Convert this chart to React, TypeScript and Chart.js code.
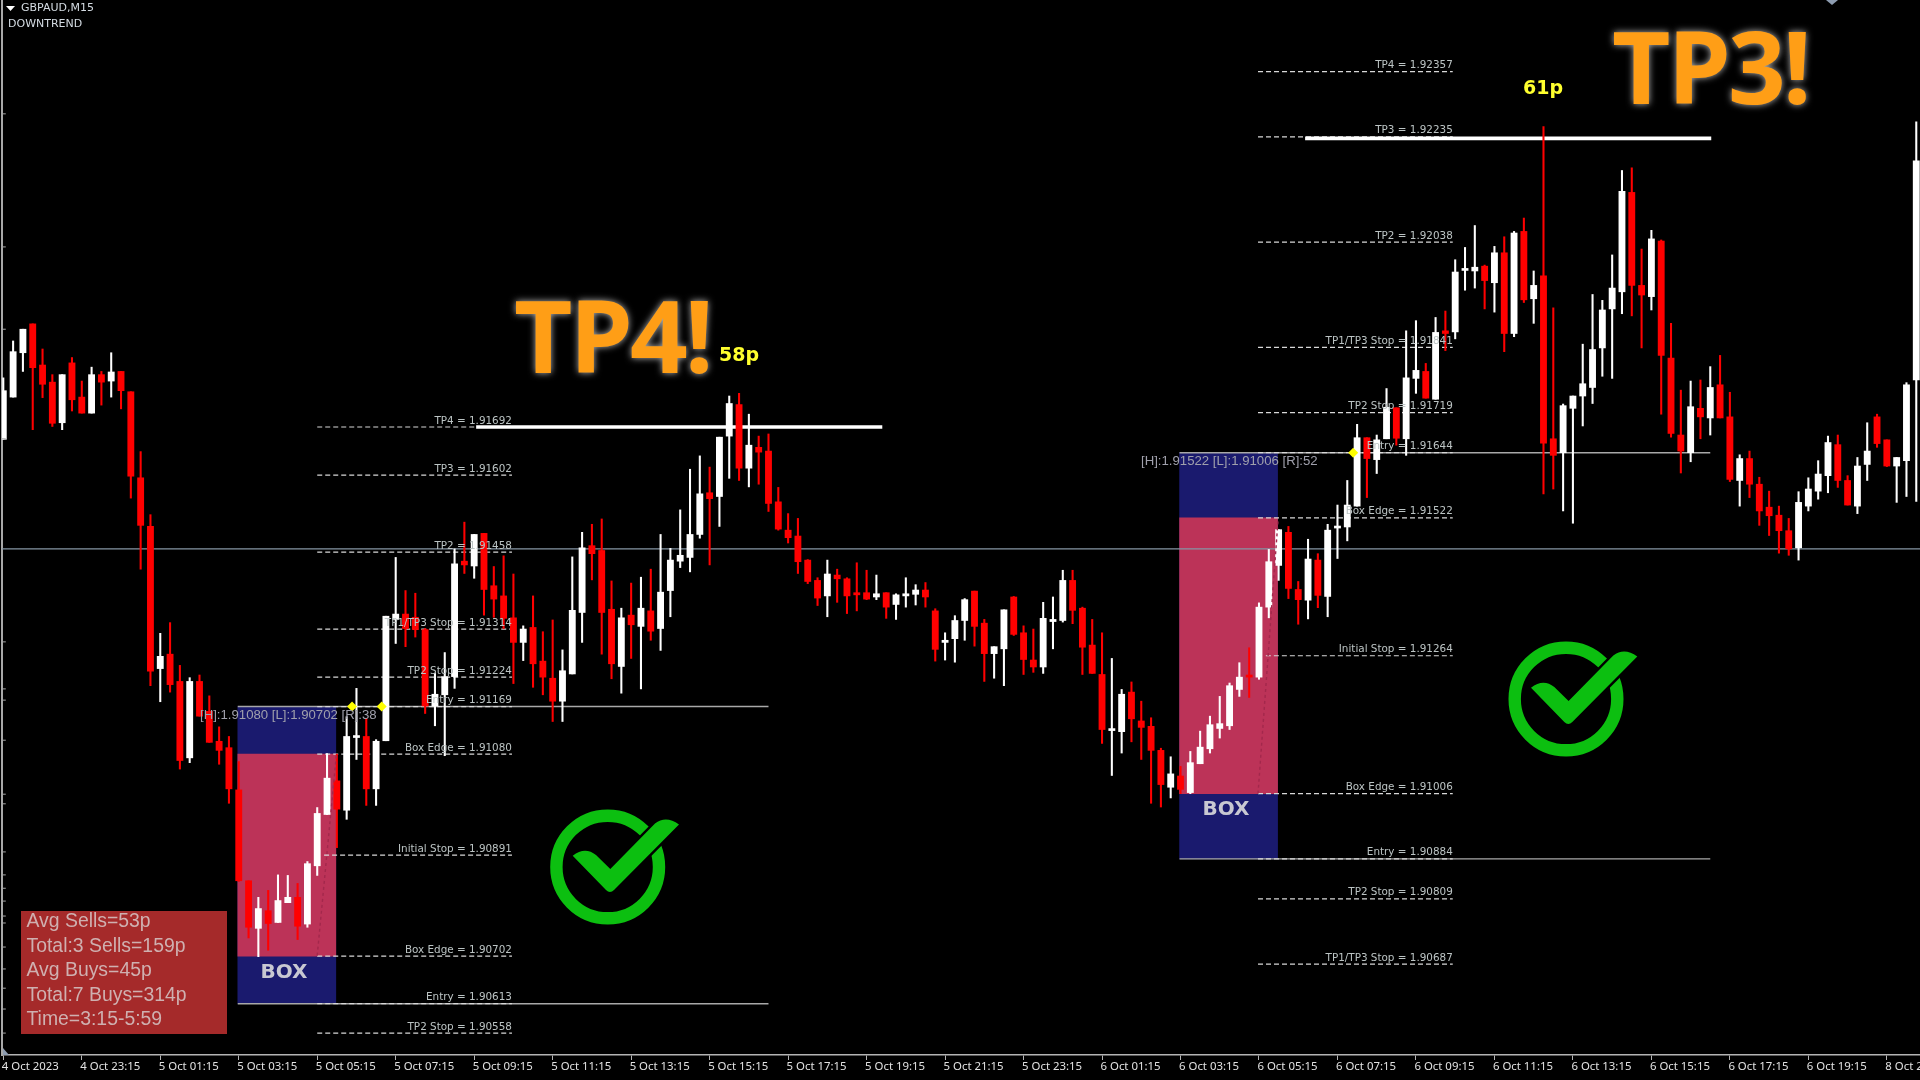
import React, { useEffect, useRef } from "react";
import { Chart, registerables } from "chart.js";

Chart.register(...registerables);

const opens = [
  1.91669,1.91748,1.91831,1.91885,1.91808,1.91776,1.91700,1.91812,1.91748,1.91718,
  1.91790,1.91778,1.91796,1.91758,1.91597,1.91506,1.91240,1.91267,1.91216,1.91073,
  1.91216,1.91160,1.91104,1.91092,1.91013,1.90843,1.90754,1.90787,1.90765,1.90802,
  1.90812,1.90762,1.90871,1.90967,1.91030,1.90975,1.91111,1.91113,1.91015,1.91105,
  1.91332,1.91342,1.91336,1.91313,1.91170,1.91191,1.91225,1.91441,1.91432,1.91493,
  1.91395,1.91376,1.91335,1.91289,1.91317,1.91254,1.91222,1.91179,1.91230,1.91345,
  1.91470,1.91461,1.91351,1.91244,1.91340,1.91319,1.91348,1.91315,1.91386,1.91441,
  1.91448,1.91491,1.91569,1.91562,1.91675,1.91734,1.91615,1.91654,1.91647,1.91552,
  1.91499,1.91488,1.91443,1.91405,1.91376,1.91415,1.91408,1.91382,1.91382,1.91374,
  1.91382,1.91360,1.91376,1.91379,1.91387,1.91348,1.91289,1.91296,1.91330,1.91385,
  1.91325,1.91268,1.91277,1.91374,1.91307,1.91256,1.91243,1.91328,1.91330,1.91405,
  1.91353,1.91284,1.91229,1.91124,1.91122,1.91196,1.91142,1.91132,1.91087,1.91018,
  1.91039,1.91008,1.91062,1.91090,1.91128,1.91133,1.91201,1.91228,1.91224,1.91355,
  1.91433,1.91495,1.91388,1.91368,1.91443,1.91375,1.91503,1.91505,1.91544,1.91672,
  1.91631,1.91670,1.91728,1.91670,1.91783,1.91796,1.91744,1.91872,1.91870,1.91985,
  1.91984,1.91993,1.91962,1.92018,1.91867,1.92058,1.91932,1.91975,1.91670,1.91644,
  1.91727,1.91750,1.91766,1.91840,1.91913,1.91945,1.92131,1.91957,1.91936,1.92040,
  1.91821,1.91677,1.91644,1.91727,1.91709,1.91771,1.91711,1.91592,1.91633,1.91585,
  1.91542,1.91527,1.91498,1.91466,1.91544,1.91572,1.91601,1.91659,1.91592,1.91544,
  1.91622,1.91711,1.91668,1.91619,1.91629,1.91780,
];
const closes = [
  1.91760,1.91833,1.91875,1.91803,1.91772,1.91699,1.91790,1.91743,1.91718,1.91790,
  1.91776,1.91795,1.91760,1.91600,1.91508,1.91235,1.91263,1.91210,1.91068,1.91216,
  1.91151,1.91102,1.91087,1.91015,1.90843,1.90756,1.90791,1.90763,1.90806,1.90812,
  1.90758,1.90875,1.90969,1.91035,1.90977,1.91113,1.91114,1.91015,1.91104,1.91338,
  1.91342,1.91315,1.91313,1.91170,1.91192,1.91225,1.91436,1.91434,1.91491,1.91388,
  1.91370,1.91334,1.91289,1.91314,1.91249,1.91224,1.91179,1.91236,1.91349,1.91466,
  1.91455,1.91345,1.91249,1.91335,1.91322,1.91353,1.91310,1.91383,1.91443,1.91452,
  1.91491,1.91567,1.91558,1.91673,1.91736,1.91615,1.91658,1.91645,1.91549,1.91501,
  1.91485,1.91440,1.91403,1.91372,1.91417,1.91408,1.91376,1.91378,1.91370,1.91380,
  1.91355,1.91378,1.91380,1.91387,1.91374,1.91276,1.91293,1.91330,1.91369,1.91319,
  1.91268,1.91281,1.91350,1.91304,1.91257,1.91243,1.91334,1.91332,1.91405,1.91349,
  1.91280,1.91231,1.91126,1.91127,1.91192,1.91146,1.91130,1.91087,1.91023,1.91043,
  1.91014,1.91064,1.91093,1.91135,1.91137,1.91208,1.91224,1.91224,1.91355,1.91440,
  1.91500,1.91390,1.91369,1.91445,1.91377,1.91499,1.91506,1.91546,1.91672,1.91633,
  1.91668,1.91729,1.91671,1.91784,1.91798,1.91746,1.91869,1.91867,1.91982,1.91988,
  1.91991,1.91966,1.92018,1.91867,1.92055,1.91930,1.91957,1.91662,1.91639,1.91732,
  1.91750,1.91773,1.91837,1.91911,1.91952,1.92133,1.91957,1.91939,1.92044,1.91826,
  1.91680,1.91647,1.91730,1.91711,1.91766,1.91709,1.91594,1.91633,1.91585,1.91535,
  1.91526,1.91498,1.91464,1.91551,1.91576,1.91604,1.91663,1.91592,1.91546,1.91619,
  1.91647,1.91661,1.91619,1.91635,1.91771,1.92190,
];
const highs = [
  1.91784,1.91853,1.91875,1.91885,1.91838,1.91790,1.91790,1.91822,1.91778,1.91804,
  1.91796,1.91831,1.91796,1.91758,1.91646,1.91528,1.91306,1.91326,1.91246,1.91223,
  1.91228,1.91189,1.91131,1.91113,1.91066,1.90843,1.90812,1.90825,1.90854,1.90853,
  1.90838,1.90879,1.90980,1.91081,1.91080,1.91150,1.91203,1.91147,1.91107,1.91338,
  1.91448,1.91386,1.91381,1.91315,1.91231,1.91270,1.91464,1.91514,1.91491,1.91493,
  1.91431,1.91451,1.91417,1.91320,1.91376,1.91309,1.91331,1.91275,1.91449,1.91495,
  1.91510,1.91520,1.91404,1.91353,1.91400,1.91411,1.91426,1.91491,1.91465,1.91537,
  1.91613,1.91638,1.91617,1.91673,1.91750,1.91755,1.91716,1.91675,1.91679,1.91579,
  1.91530,1.91521,1.91444,1.91410,1.91443,1.91426,1.91410,1.91438,1.91424,1.91415,
  1.91382,1.91380,1.91410,1.91397,1.91401,1.91352,1.91307,1.91339,1.91371,1.91385,
  1.91332,1.91281,1.91350,1.91375,1.91320,1.91314,1.91364,1.91374,1.91424,1.91424,
  1.91355,1.91332,1.91307,1.91259,1.91201,1.91215,1.91179,1.91148,1.91091,1.91075,
  1.91057,1.91085,1.91123,1.91151,1.91188,1.91213,1.91251,1.91279,1.91363,1.91463,
  1.91500,1.91506,1.91403,1.91482,1.91455,1.91510,1.91546,1.91592,1.91697,1.91672,
  1.91677,1.91764,1.91728,1.91872,1.91891,1.91811,1.91897,1.91909,1.92005,1.92028,
  1.92069,1.91995,1.92030,1.92048,1.92058,1.92083,1.91984,1.92254,1.91915,1.91735,
  1.91750,1.91847,1.91940,1.91929,1.92014,1.92172,1.92177,1.92025,1.92060,1.92042,
  1.91886,1.91761,1.91778,1.91780,1.91805,1.91826,1.91757,1.91640,1.91647,1.91598,
  1.91572,1.91544,1.91521,1.91571,1.91597,1.91629,1.91675,1.91677,1.91601,1.91635,
  1.91700,1.91716,1.91668,1.91635,1.91775,1.92263,
];
const lows = [
  1.91669,1.91748,1.91796,1.91687,1.91747,1.91693,1.91687,1.91722,1.91718,1.91718,
  1.91733,1.91748,1.91726,1.91559,1.91426,1.91208,1.91178,1.91196,1.91052,1.91064,
  1.91151,1.91102,1.91061,1.90988,1.90842,1.90736,1.90701,1.90713,1.90765,1.90802,
  1.90733,1.90756,1.90853,1.90967,1.90905,1.90958,1.91070,1.90984,1.90984,1.91105,
  1.91287,1.91281,1.91299,1.91156,1.91133,1.91077,1.91203,1.91418,1.91409,1.91340,
  1.91336,1.91315,1.91212,1.91255,1.91205,1.91191,1.91141,1.91141,1.91230,1.91289,
  1.91406,1.91267,1.91221,1.91194,1.91259,1.91202,1.91293,1.91274,1.91337,1.91429,
  1.91421,1.91484,1.91434,1.91506,1.91596,1.91592,1.91580,1.91585,1.91534,1.91499,
  1.91475,1.91418,1.91399,1.91358,1.91337,1.91364,1.91343,1.91348,1.91369,1.91369,
  1.91334,1.91332,1.91355,1.91359,1.91355,1.91254,1.91256,1.91252,1.91293,1.91282,
  1.91216,1.91222,1.91208,1.91302,1.91229,1.91233,1.91231,1.91277,1.91327,1.91324,
  1.91229,1.91231,1.91100,1.91040,1.91082,1.91103,1.91070,1.90988,1.90981,1.90998,
  1.91006,1.91006,1.91062,1.91082,1.91110,1.91126,1.91188,1.91186,1.91220,1.91335,
  1.91405,1.91371,1.91323,1.91333,1.91354,1.91337,1.91446,1.91479,1.91544,1.91560,
  1.91605,1.91670,1.91658,1.91639,1.91755,1.91746,1.91744,1.91835,1.91857,1.91948,
  1.91952,1.91913,1.91907,1.91833,1.91861,1.91925,1.91886,1.91567,1.91576,1.91535,
  1.91512,1.91694,1.91736,1.91787,1.91783,1.91904,1.91900,1.91840,1.91911,1.91716,
  1.91673,1.91606,1.91627,1.91670,1.91677,1.91709,1.91590,1.91544,1.91560,1.91508,
  1.91489,1.91456,1.91452,1.91443,1.91535,1.91557,1.91569,1.91579,1.91546,1.91530,
  1.91592,1.91654,1.91618,1.91551,1.91562,1.91553,
];

const xTickIndex = [0,8,16,24,32,40,48,56,64,72,80,88,96,104,112,120,128,136,144,152,160,168,176,184,192];
const xTickLabels = [
  "4 Oct 2023","4 Oct 23:15","5 Oct 01:15","5 Oct 03:15","5 Oct 05:15","5 Oct 07:15","5 Oct 09:15",
  "5 Oct 11:15","5 Oct 13:15","5 Oct 15:15","5 Oct 17:15","5 Oct 19:15","5 Oct 21:15","5 Oct 23:15",
  "6 Oct 01:15","6 Oct 03:15","6 Oct 05:15","6 Oct 07:15","6 Oct 09:15","6 Oct 11:15","6 Oct 13:15",
  "6 Oct 15:15","6 Oct 17:15","6 Oct 19:15","8 Oct 21:15",
];
const yTickPrices = [1.92278,1.92029,1.91875,1.91670,1.91290,1.91202,1.91181,1.91106,1.91005,1.90987,1.90897,1.90854,1.90829,1.90805,1.90777,1.90764,1.90719,1.90678,1.90642,1.90603,1.90558];

const levelNamesA = ["TP4","TP3","TP2","TP1/TP3 Stop","TP2 Stop","Entry","Box Edge","Initial Stop","Box Edge","Entry","TP2 Stop"];
const levelPricesA = ["1.91692","1.91602","1.91458","1.91314","1.91224","1.91169","1.91080","1.90891","1.90702","1.90613","1.90558"];
const levelNamesB = ["TP4","TP3","TP2","TP1/TP3 Stop","TP2 Stop","Entry","Box Edge","Initial Stop","Box Edge","Entry","TP2 Stop","TP1/TP3 Stop"];
const levelPricesB = ["1.92357","1.92235","1.92038","1.91841","1.91719","1.91644","1.91522","1.91264","1.91006","1.90884","1.90809","1.90687"];

const boxCenters = [28.9, 124.9];
const boxOuter = [[1.90613, 1.91169], [1.90884, 1.91644]];
const boxInner = [[1.90702, 1.91080], [1.91006, 1.91522]];
const entryLines = [
  [23.9, 78, 1.91169], [23.9, 78, 1.90613],
  [119.9, 174, 1.91644], [119.9, 174, 1.90884],
];
const targetLines = [[48.2, 89.6, 1.91692], [132.7, 174.1, 1.92232]];
const trendLine = 1.91464;
const tradeLines = [
  [[32, 1.90703], [33.95, 1.91078]],
  [[127.9, 1.91006], [129.95, 1.91520]],
];
const markerX = [35.55, 38.57, 137.6];
const markerY = [1.91169, 1.91169, 1.91644];
const statsLines = ["Avg Sells=53p", "Total:3 Sells=159p", "Avg Buys=45p", "Total:7 Buys=314p", "Time=3:15-5:59"];
const infoTexts = ["[H]:1.91080 [L]:1.90702 [R]:38", "[H]:1.91522 [L]:1.91006 [R]:52"];

const WHITE = "#ffffff";
const RED = "#ff0000";
const LEVEL_A = [32, 51.85];
const LEVEL_B = [127.9, 147.75];

function hline(from: number, to: number, y: number, color: string, width: number, dash: number[], order: number) {
  return {
    type: "line",
    data: [{ x: from, y }, { x: to, y }],
    borderColor: color,
    borderWidth: width,
    borderDash: dash,
    pointRadius: 0,
    order,
  };
}

function drawCheck(ctx: CanvasRenderingContext2D, cx: number, cy: number) {
  const green = "#0cbf10";
  ctx.save();
  ctx.beginPath();
  ctx.arc(cx, cy, 51.3, 0, Math.PI * 2);
  ctx.strokeStyle = green;
  ctx.lineWidth = 12.4;
  ctx.stroke();
  ctx.translate(cx - 77.7, cy - 77);
  ctx.beginPath();
  ctx.moveTo(42.7, 65.7);
  ctx.quadraticCurveTo(55, 56, 66, 65);
  ctx.lineTo(80.3, 79);
  ctx.lineTo(125, 33.5);
  ctx.quadraticCurveTo(136, 25, 149, 34.5);
  ctx.lineTo(84, 100);
  ctx.quadraticCurveTo(80, 104, 76, 100);
  ctx.closePath();
  ctx.strokeStyle = "#000";
  ctx.lineWidth = 5;
  ctx.stroke();
  ctx.fillStyle = green;
  ctx.fill();
  ctx.restore();
}

function bigText(ctx: CanvasRenderingContext2D, text: string, x: number, y: number) {
  ctx.save();
  ctx.font = '700 101px "Open Sans"';
  (ctx as any).letterSpacing = "-3px";
  ctx.textAlign = "left";
  ctx.textBaseline = "alphabetic";
  ctx.shadowColor = "rgba(215,215,215,0.85)";
  ctx.shadowBlur = 7;
  ctx.fillStyle = "#ff9e16";
  ctx.fillText(text, x, y);
  ctx.restore();
}

const overlay = {
  id: "overlay",
  afterDatasetsDraw(chart: any) {
    const { ctx } = chart;
    const xs = chart.scales.x;
    const ys = chart.scales.y;
    ctx.save();

    const levelText = (names: string[], prices: string[], end: number) => {
      ctx.font = '10.4px "DejaVu Sans"';
      ctx.fillStyle = "#bcc4c4";
      ctx.textAlign = "right";
      ctx.textBaseline = "alphabetic";
      names.forEach((n, i) => {
        const y = ys.getPixelForValue(Number(prices[i]));
        ctx.fillText(`${n} = ${prices[i]}`, xs.getPixelForValue(end), y - 3.5);
      });
    };
    levelText(levelNamesA, levelPricesA, LEVEL_A[1]);
    levelText(levelNamesB, levelPricesB, LEVEL_B[1]);

    ctx.font = '13.2px "Liberation Sans"';
    ctx.fillStyle = "#a0a0ac";
    ctx.textAlign = "left";
    ctx.textBaseline = "middle";
    ctx.fillText(infoTexts[0], 200, 715);
    ctx.fillText(infoTexts[1], 1141, 461.5);

    ctx.font = 'bold 20px "DejaVu Sans"';
    ctx.fillStyle = "#c8c8d2";
    ctx.textAlign = "center";
    ctx.fillText("BOX", 284, 973);
    ctx.fillText("BOX", 1226, 809.5);

    // stats panel
    ctx.fillStyle = "#a52a2a";
    ctx.fillRect(21, 911, 206, 123);
    ctx.font = '19.4px "Liberation Sans"';
    ctx.fillStyle = "#cfb0b0";
    ctx.textAlign = "left";
    statsLines.forEach((s, i) => ctx.fillText(s, 26.5, 922 + i * 24.5));

    // header
    ctx.font = '11px "DejaVu Sans"';
    ctx.fillStyle = "#d4dbe2";
    ctx.fillText("GBPAUD,M15", 21, 8.5);
    ctx.fillText("DOWNTREND", 8, 24.5);
    ctx.fillStyle = "#ffffff";
    ctx.beginPath();
    ctx.moveTo(6, 6);
    ctx.lineTo(15, 6);
    ctx.lineTo(10.5, 11);
    ctx.closePath();
    ctx.fill();

    // corner glyphs
    ctx.fillStyle = "#8d9cb0";
    ctx.beginPath();
    ctx.moveTo(3, 1048);
    ctx.lineTo(9, 1055);
    ctx.lineTo(3, 1055);
    ctx.closePath();
    ctx.fill();
    ctx.beginPath();
    ctx.moveTo(1826, 0);
    ctx.lineTo(1838, 0);
    ctx.lineTo(1832, 5);
    ctx.closePath();
    ctx.fill();

    bigText(ctx, "TP4!", 514, 373);
    bigText(ctx, "TP3!", 1612, 104);

    ctx.font = 'bold 19px "DejaVu Sans"';
    ctx.fillStyle = "#ffff2e";
    ctx.textAlign = "left";
    ctx.textBaseline = "alphabetic";
    ctx.fillText("58p", 719, 361);
    ctx.fillText("61p", 1523, 94);

    drawCheck(ctx, 607.7, 867);
    drawCheck(ctx, 1566, 699);
    ctx.restore();
  },
};

export default function App() {
  const ref = useRef<HTMLCanvasElement | null>(null);
  useEffect(() => {
    if (!ref.current) return;
    const idx = opens.map((_, i) => i);
    const isUp = idx.map((i) => closes[i] >= opens[i]);
    const colors = isUp.map((u) => (u ? WHITE : RED));
    const levelSets = [
      ...levelPricesA.map((p, i) =>
        hline(levelNamesA[i] === "Initial Stop" ? 32.7 : LEVEL_A[0], LEVEL_A[1], Number(p), "#d8d8d8", 1.2, [5, 3], 70)),
      ...levelPricesB.map((p, i) =>
        hline(levelNamesB[i] === "Initial Stop" ? 128.7 : LEVEL_B[0], LEVEL_B[1], Number(p), "#d8d8d8", 1.2, [5, 3], 70)),
    ];
    const chart = new Chart(ref.current, {
      type: "bar",
      data: {
        datasets: [
          {
            type: "bar",
            label: "box",
            data: boxCenters.map((x, i) => ({ x, y: boxOuter[i] })),
            backgroundColor: "#1a1a6e",
            barThickness: 98,
            grouped: false,
            borderWidth: 0,
            order: 100,
          },
          {
            type: "bar",
            label: "box inner",
            data: boxCenters.map((x, i) => ({ x, y: boxInner[i] })),
            backgroundColor: "#bc3358",
            barThickness: 98,
            grouped: false,
            borderWidth: 0,
            order: 95,
          },
          hline(-1, 196, trendLine, "#8696a4", 1.3, [], 90),
          ...entryLines.map(([a, b, y]) => hline(a, b, y, "#a8a8a8", 1.4, [], 80)),
          ...levelSets,
          ...targetLines.map(([a, b, y]) => hline(a, b, y, "#ffffff", 3.6, [], 60)),
          {
            type: "bar",
            label: "wick",
            data: idx.map((i) => ({ x: i, y: [lows[i], highs[i]] })),
            backgroundColor: colors,
            barThickness: 1.4,
            grouped: false,
            borderWidth: 0,
            order: 50,
          },
          {
            type: "bar",
            label: "body",
            data: idx.map((i) => ({ x: i, y: [opens[i], closes[i]] })),
            backgroundColor: colors,
            barThickness: 6.2,
            grouped: false,
            borderWidth: 0,
            minBarLength: 2,
            order: 40,
          },
          ...tradeLines.map((pts) => ({
            type: "line",
            data: pts.map(([x, y]) => ({ x, y })),
            borderColor: "#a3284c",
            borderWidth: 1.4,
            borderDash: [3, 3],
            pointRadius: 0,
            order: 30,
          })),
          {
            type: "line",
            data: markerX.map((x, i) => ({ x, y: markerY[i] })),
            showLine: false,
            pointStyle: "rectRot",
            pointRadius: 5,
            pointBackgroundColor: "#ffff00",
            pointBorderWidth: 0,
            order: 20,
          },
          {
            type: "line",
            data: yTickPrices.map((y) => ({ x: 0.05, y })),
            showLine: false,
            pointStyle: "line",
            pointRadius: 2,
            pointBorderColor: "#a8a8a8",
            pointBorderWidth: 1,
            order: 10,
          },
        ],
      } as any,
      options: {
        responsive: false,
        animation: false,
        devicePixelRatio: 1,
        layout: { padding: 0, autoPadding: false },
        plugins: { legend: { display: false }, tooltip: { enabled: false } },
        scales: {
          x: {
            type: "linear",
            offset: false,
            min: -0.1325,
            max: 195.38,
            afterBuildTicks: (s: any) => {
              s.ticks = xTickIndex.map((value) => ({ value }));
            },
            afterFit: (s: any) => {
              s.height = 25;
              s.paddingLeft = 0;
              s.paddingRight = 0;
            },
            border: { color: "#b4b4b4", width: 1.5 },
            grid: { drawOnChartArea: false, offset: false, tickLength: 5, color: "#b4b4b4", tickWidth: 1 },
            ticks: {
              autoSkip: false,
              maxRotation: 0,
              minRotation: 0,
              align: "start",
              padding: 0,
              labelOffset: -1.5,
              color: "#e2e2e2",
              font: { family: '"Noto Sans"', size: 11.4 },
              callback: (_v: any, i: number) => xTickLabels[i],
            },
          },
          y: {
            type: "linear",
            min: 1.90517,
            max: 1.92491,
            afterFit: (s: any) => {
              s.width = 2;
            },
            border: { color: "#a8a8a8", width: 2 },
            grid: { display: false },
            ticks: { display: false },
          },
        },
      } as any,
      plugins: [overlay],
    } as any);
    return () => chart.destroy();
  }, []);
  return (
    <div style={{ position: "fixed", left: 0, top: 0, width: 1920, height: 1080, background: "#000", overflow: "hidden" }}>
      <canvas ref={ref} width={1920} height={1080} style={{ display: "block" }} />
    </div>
  );
}
